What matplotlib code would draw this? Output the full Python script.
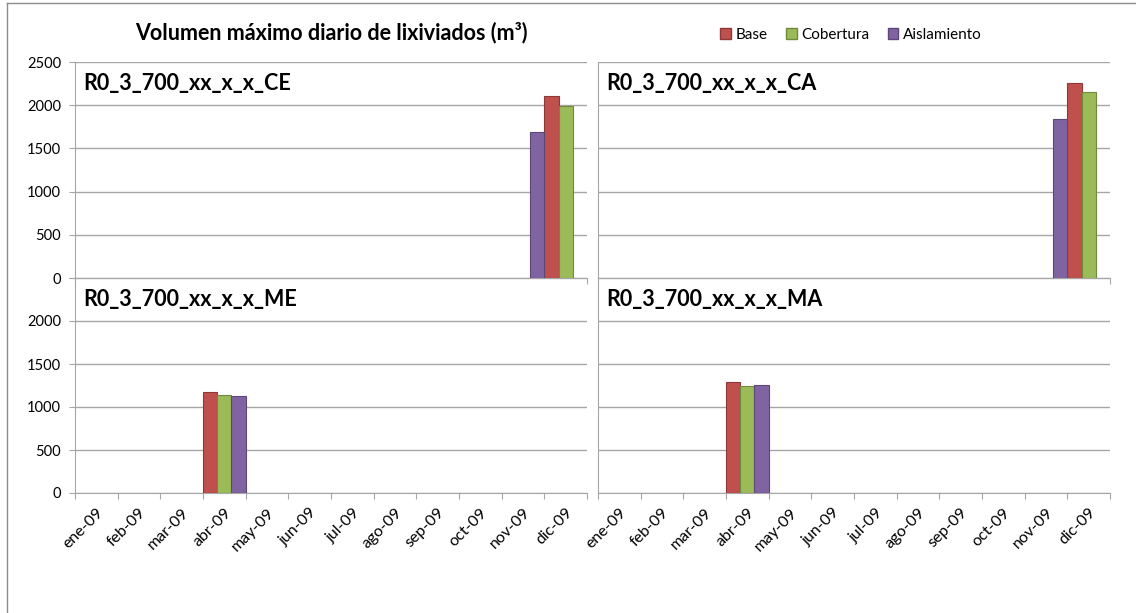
import matplotlib.pyplot as plt
from matplotlib.patches import Patch
import matplotlib.lines as mlines

plt.rcParams['font.family'] = ['Lato', 'DejaVu Sans']

months = ['ene-09', 'feb-09', 'mar-09', 'abr-09', 'may-09', 'jun-09',
          'jul-09', 'ago-09', 'sep-09', 'oct-09', 'nov-09', 'dic-09']
series = ['Base', 'Cobertura', 'Aislamiento']
colors = ['#C0504D', '#9BBB59', '#8064A2']
edges = ['#8C3836', '#71893F', '#5C4776']

# month of the daily maximum and its volume, per series
ce_month = ['dic-09', 'dic-09', 'nov-09']
ce_vals = [2110, 1990, 1690]
ca_month = ['dic-09', 'dic-09', 'nov-09']
ca_vals = [2260, 2150, 1840]
me_month = ['abr-09', 'abr-09', 'abr-09']
me_vals = [1170, 1140, 1130]
ma_month = ['abr-09', 'abr-09', 'abr-09']
ma_vals = [1290, 1245, 1260]

panels = [
    ('R0_3_700_xx_x_x_CE', ce_month, ce_vals),
    ('R0_3_700_xx_x_x_CA', ca_month, ca_vals),
    ('R0_3_700_xx_x_x_ME', me_month, me_vals),
    ('R0_3_700_xx_x_x_MA', ma_month, ma_vals),
]

W, H = 1136, 613
fig = plt.figure(figsize=(W / 100, H / 100), dpi=100)

# outer chart border (left and top only visible)
fig.add_artist(mlines.Line2D([7 / W, 7 / W], [0, 1 - 3 / H], color='#8C8C8C', lw=1))
fig.add_artist(mlines.Line2D([7 / W, 1], [1 - 3 / H, 1 - 3 / H], color='#8C8C8C', lw=1))

boxes = [
    (75, 62, 587, 278),
    (598, 62, 1110, 278),
    (75, 278, 587, 493),
    (598, 278, 1110, 493),
]

grid_c = '#A6A6A6'
for i, (name, mon, vals) in enumerate(panels):
    x0, y0, x1, y1 = boxes[i]
    ax = fig.add_axes([x0 / W, 1 - y1 / H, (x1 - x0) / W, (y1 - y0) / H])
    for k in range(3):
        m = months.index(mon[k])
        ax.bar(m + k / 3, vals[k], width=1 / 3, align='edge',
               color=colors[k], edgecolor=edges[k], linewidth=0.8, zorder=3)
    ax.set_xlim(0, 12)
    ax.set_ylim(0, 2500)
    ax.set_yticks(range(0, 2501, 500))
    ax.yaxis.grid(True, color=grid_c, lw=1, zorder=0)
    for s in ['top', 'right']:
        ax.spines[s].set_visible(False)
    for s in ['left', 'bottom']:
        ax.spines[s].set_color(grid_c)
    ax.set_xticks(range(13))
    ax.set_xticks([j + 0.5 for j in range(12)], minor=True)
    ax.tick_params(axis='x', which='major', length=4, color=grid_c, labelbottom=False)
    ax.tick_params(axis='x', which='minor', length=0)
    ax.tick_params(axis='y', length=4, color=grid_c, labelsize=10.5, pad=6)
    if i >= 2:
        ax.set_xticklabels(months, minor=True, rotation=45, ha='right',
                           rotation_mode='anchor', fontsize=11.5)
        ax.tick_params(axis='x', which='minor', pad=9)
    if i % 2 == 1:
        ax.tick_params(axis='y', length=0, labelleft=False)
    elif i == 2:
        ax.set_yticklabels(['0', '500', '1000', '1500', '2000', ''])
    ax.text(0.016, 0.9, name, transform=ax.transAxes, fontsize=15.5,
            fontweight='bold', va='center', ha='left')

fig.text(331 / W, 1 - 33 / H, 'Volumen máximo diario de lixiviados (m³)',
         fontsize=15.5, fontweight='bold', ha='center', va='center')

handles = [Patch(facecolor=colors[k], edgecolor=edges[k], label=series[k]) for k in range(3)]
fig.legend(handles=handles, loc='center', bbox_to_anchor=(851 / W, 1 - 35 / H),
           ncol=3, frameon=False, fontsize=11, handlelength=0.7, handleheight=0.7,
           handletextpad=0.3, columnspacing=1.2)

fig.savefig('out.png', dpi=100)
